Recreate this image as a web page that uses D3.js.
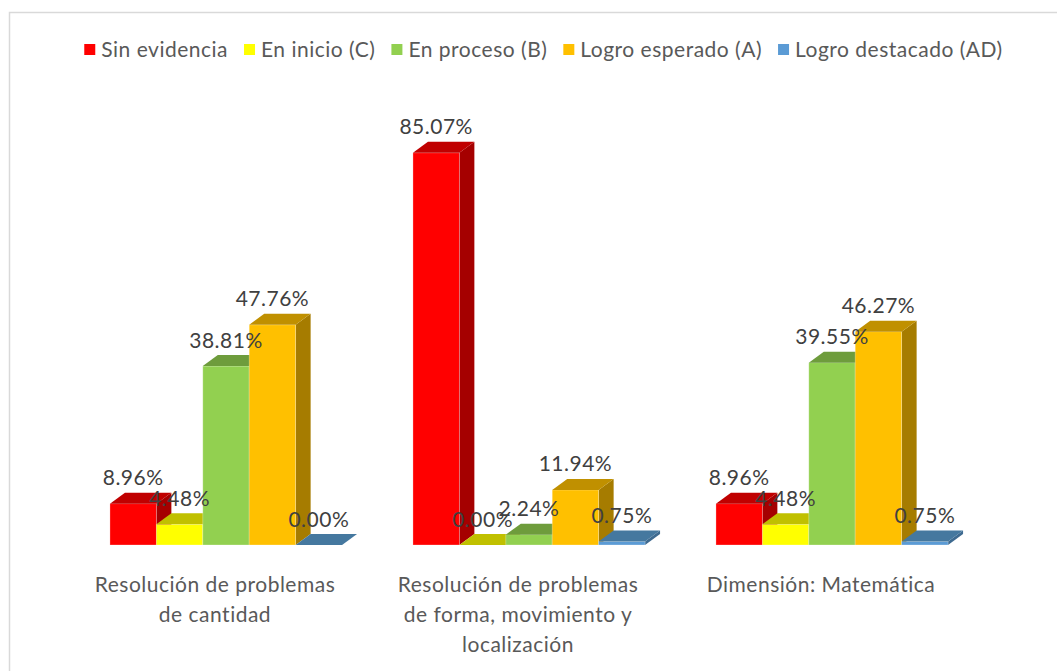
<!DOCTYPE html>
<html>
<head>
<meta charset="utf-8">
<script src="https://cdn.jsdelivr.net/npm/d3@7"></script>
<style>
  body { margin: 0; background: #fff; }
  text { font-family: Lato, "Open Sans", sans-serif; letter-spacing: 0.5px; }
</style>
</head>
<body>
<div id="vis-holder"></div>
<script>
// Chart data
const categories = [
  ["Resolución de problemas", "de cantidad"],
  ["Resolución de problemas", "de forma, movimiento y", "localización"],
  ["Dimensión: Matemática"]
];
const series = ["Sin evidencia", "En inicio (C)", "En proceso (B)", "Logro esperado (A)", "Logro destacado (AD)"];
const sinEvidencia = [8.96, 85.07, 8.96];
const enInicio = [4.48, 0.00, 4.48];
const enProceso = [38.81, 2.24, 39.55];
const logroEsperado = [47.76, 11.94, 46.27];
const logroDestacado = [0.00, 0.75, 0.75];
const seriesValues = [sinEvidencia, enInicio, enProceso, logroEsperado, logroDestacado];

// Face colours: front, side, top
const frontColor = ["#FF0000", "#FFFF00", "#92D050", "#FFC000", "#5B9BD5"];
const sideColor = ["#A50000", "#A6A600", "#5F8A33", "#A67C00", "#3E6A90"];
const topColor = ["#C00000", "#C0C000", "#6E9C3C", "#C09000", "#45789F"];

const width = 1057;
const height = 671;
const depth = { dx: 15, dy: -11 };

const svg = d3.select("#vis-holder")
  .append("svg")
  .attr("width", width)
  .attr("height", height);

// Chart border
svg.append("rect")
  .attr("x", 9.5).attr("y", 12.5)
  .attr("width", 1080).attr("height", 700)
  .attr("fill", "none")
  .attr("stroke", "#D9D9D9")
  .attr("stroke-width", 1.5);

// Scales
const x0 = d3.scaleBand()
  .domain(d3.range(categories.length))
  .range([74.5, 983.5])
  .paddingInner(0.234)
  .paddingOuter(0.117);

const x1 = d3.scaleBand()
  .domain(d3.range(series.length))
  .range([0, x0.bandwidth()]);

const y = d3.scaleLinear()
  .domain([0, 100])
  .range([545, 84]);

// Bars, drawn left to right so nearer faces cover the previous side
const barData = [];
categories.forEach((c, ci) => {
  series.forEach((s, si) => {
    barData.push({ ci, si, value: seriesValues[si][ci] });
  });
});

const bars = svg.selectAll("g.bar")
  .data(barData)
  .enter()
  .append("g")
  .attr("class", "bar");

function facePoints(d) {
  const xl = x0(d.ci) + x1(d.si);
  const xr = xl + x1.bandwidth();
  const yt = y(d.value);
  const yb = y(0);
  return { xl, xr, yt, yb };
}

// side face
bars.append("polygon")
  .attr("points", (d) => {
    const p = facePoints(d);
    return [[p.xr, p.yt], [p.xr + depth.dx, p.yt + depth.dy], [p.xr + depth.dx, p.yb + depth.dy], [p.xr, p.yb]].join(" ");
  })
  .attr("fill", (d) => sideColor[d.si]);

// front face
bars.append("rect")
  .attr("x", (d) => facePoints(d).xl)
  .attr("y", (d) => facePoints(d).yt)
  .attr("width", x1.bandwidth())
  .attr("height", (d) => y(0) - y(d.value))
  .attr("fill", (d) => frontColor[d.si])
  .attr("stroke", "#ffffff")
  .attr("stroke-opacity", 0.35)
  .attr("stroke-width", 0.8);

// top face
bars.append("polygon")
  .attr("points", (d) => {
    const p = facePoints(d);
    return [[p.xl, p.yt], [p.xl + depth.dx, p.yt + depth.dy], [p.xr + depth.dx, p.yt + depth.dy], [p.xr, p.yt]].join(" ");
  })
  .attr("fill", (d) => topColor[d.si]);

// value labels
svg.selectAll("text.value")
  .data(barData)
  .enter()
  .append("text")
  .attr("class", "value")
  .attr("x", (d) => x0(d.ci) + x1(d.si) + x1.bandwidth() / 2)
  .attr("y", (d) => y(d.value) + depth.dy - 7.5)
  .attr("text-anchor", "middle")
  .attr("font-size", "21px")
  .attr("fill", "#404040")
  .text((d) => d.value.toFixed(2) + "%");

// category labels
const catLabels = svg.selectAll("text.cat")
  .data(categories)
  .enter()
  .append("text")
  .attr("class", "cat")
  .attr("text-anchor", "middle")
  .attr("font-size", "21px")
  .attr("fill", "#595959");

catLabels.selectAll("tspan")
  .data((d, i) => d.map((line) => ({ line, i })))
  .enter()
  .append("tspan")
  .attr("x", (d) => x0(d.i) + x0.bandwidth() / 2 - 11)
  .attr("y", (d, j) => 592 + j * 30)
  .text((d) => d.line);

// legend
const legend = svg.append("g").attr("class", "legend");
let lx = 0;
series.forEach((s, i) => {
  const item = legend.append("g").attr("transform", `translate(${lx},0)`);
  item.append("rect")
    .attr("x", 0).attr("y", -6)
    .attr("width", 11).attr("height", 11)
    .attr("fill", frontColor[i]);
  const t = item.append("text")
    .attr("x", 17).attr("y", 7)
    .attr("font-size", "21px")
    .attr("fill", "#595959")
    .text(s);
  lx += 17 + t.node().getComputedTextLength() + 16;
});
const legendWidth = lx - 16;
legend.attr("transform", `translate(${543.5 - legendWidth / 2},50)`);
</script>
</body>
</html>
